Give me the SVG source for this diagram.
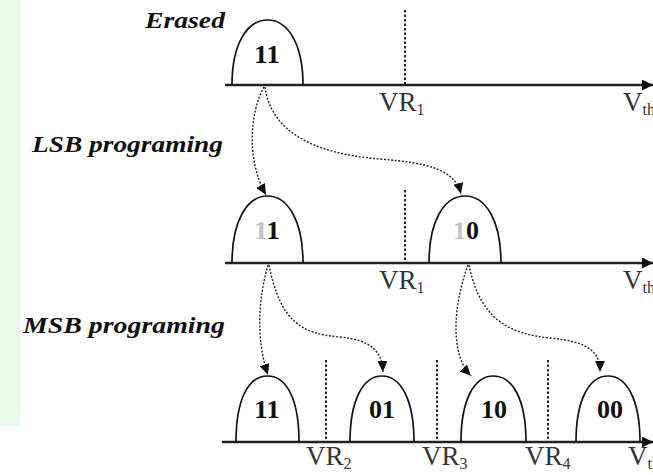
<svg xmlns="http://www.w3.org/2000/svg" width="653" height="475" viewBox="0 0 653 475">
<defs>
<style>
.bell{fill:none;stroke:#111;stroke-width:1.7}
.axis{stroke:#222;stroke-width:2.4;fill:none}
.vr{stroke:#222;stroke-width:2;stroke-dasharray:2.5,2;fill:none}
.conn{stroke:#222;stroke-width:1.4;stroke-dasharray:2,1.6;fill:none}
.dig{font-weight:bold;font-size:25px;fill:#111;text-anchor:middle}
.ttl{font-weight:bold;font-style:italic;font-size:24px;fill:#111}
.lab{font-size:27px;fill:#333}
.sub{font-size:16px}
.gray{fill:#c4c4c4}
</style>
<marker id="ah" markerUnits="userSpaceOnUse" markerWidth="11" markerHeight="10" refX="11" refY="5" orient="auto">
<path d="M0,0 L11,5 L0,10 z" fill="#111"/>
</marker>
<marker id="axh" markerUnits="userSpaceOnUse" markerWidth="11" markerHeight="11" refX="11" refY="5.5" orient="auto">
<path d="M0,0 L11,5.5 L0,11 z" fill="#111"/>
</marker>
</defs>
<rect x="0" y="0" width="653" height="475" fill="#fff"/>
<rect x="0" y="0" width="20" height="426" fill="#e6f8e6"/>

<g font-family="'Liberation Serif', 'Times New Roman', Times, serif">
<g id="titles">
<text class="ttl" x="145" y="28" textLength="80" lengthAdjust="spacingAndGlyphs">Erased</text>
<text class="ttl" x="32" y="152" textLength="191" lengthAdjust="spacingAndGlyphs">LSB programing</text>
<text class="ttl" x="23" y="333" textLength="202" lengthAdjust="spacingAndGlyphs">MSB programing</text>
</g>

<g id="row1">
<line class="axis" x1="225" y1="85" x2="653" y2="85" marker-end="url(#axh)"/>
<line class="vr" x1="405" y1="10" x2="405" y2="85"/>
<text class="lab" x="379" y="111">VR<tspan class="sub" dy="4">1</tspan></text>
<text class="lab" x="623" y="111">V<tspan class="sub" dy="4">th</tspan></text>
</g>
<g id="erased-11">
<path class="bell" d="M232,85 C232,44 247,20 267.5,20 C288,20 303,44 303,85"/>
<text class="dig" x="267" y="63" textLength="26" lengthAdjust="spacingAndGlyphs">11</text>
</g>

<g id="row2">
<line class="axis" x1="225" y1="263" x2="653" y2="263" marker-end="url(#axh)"/>
<line class="vr" x1="405" y1="190" x2="405" y2="263"/>
<text class="lab" x="379" y="289">VR<tspan class="sub" dy="4">1</tspan></text>
<text class="lab" x="623" y="289">V<tspan class="sub" dy="4">th</tspan></text>
</g>
<g id="lsb-11">
<path class="bell" d="M232,263 C232,221 247,196 267.5,196 C288,196 303,221 303,263"/>
<text class="dig" x="267" y="239" textLength="26" lengthAdjust="spacingAndGlyphs"><tspan class="gray">1</tspan>1</text>
</g>
<g id="lsb-10">
<path class="bell" d="M429,263 C429,221 444,196 465,196 C486,196 501,221 501,263"/>
<text class="dig" x="466" y="239" textLength="26" lengthAdjust="spacingAndGlyphs"><tspan class="gray">1</tspan>0</text>
</g>

<g id="row3">
<line class="axis" x1="222" y1="442" x2="653" y2="442" marker-end="url(#axh)"/>
<line class="vr" x1="326" y1="360" x2="326" y2="442"/>
<line class="vr" x1="437" y1="360" x2="437" y2="442"/>
<line class="vr" x1="548" y1="360" x2="548" y2="442"/>
<text class="lab" x="306" y="465">VR<tspan class="sub" dy="4">2</tspan></text>
<text class="lab" x="422" y="465">VR<tspan class="sub" dy="4">3</tspan></text>
<text class="lab" x="525" y="465">VR<tspan class="sub" dy="4">4</tspan></text>
<text class="lab" x="628" y="465">V<tspan class="sub" dy="4">th</tspan></text>
</g>
<g id="msb-11">
<path class="bell" d="M236,442 C236,400 248,376 267.5,376 C287,376 299,400 299,442"/>
<text class="dig" x="267" y="418" textLength="26" lengthAdjust="spacingAndGlyphs">11</text>
</g>
<g id="msb-01">
<path class="bell" d="M350,442 C350,400 363,376 382,376 C401,376 414,400 414,442"/>
<text class="dig" x="382" y="418" textLength="26" lengthAdjust="spacingAndGlyphs">01</text>
</g>
<g id="msb-10">
<path class="bell" d="M461,442 C461,400 474,376 493.5,376 C513,376 526,400 526,442"/>
<text class="dig" x="494" y="418" textLength="26" lengthAdjust="spacingAndGlyphs">10</text>
</g>
<g id="msb-00">
<path class="bell" d="M576,442 C576,400 589,376 608,376 C627,376 640,400 640,442"/>
<text class="dig" x="610" y="418" textLength="26" lengthAdjust="spacingAndGlyphs">00</text>
</g>
</g>

<g id="connectors">
<path class="conn" d="M264,87 C250,112 246,160 266,195" marker-end="url(#ah)"/>
<path class="conn" d="M265,87 C272,140 330,155 380,159 C430,163 455,170 461,194" marker-end="url(#ah)"/>
<path class="conn" d="M268,265 C258,300 256,340 268,375" marker-end="url(#ah)"/>
<path class="conn" d="M269,265 C280,320 300,334 340,337 C372,340 382,352 383,372" marker-end="url(#ah)"/>
<path class="conn" d="M468,265 C455,300 448,352 471,376" marker-end="url(#ah)"/>
<path class="conn" d="M469,265 C480,320 510,334 550,338 C590,342 600,352 600,372" marker-end="url(#ah)"/>
</g>
</svg>
